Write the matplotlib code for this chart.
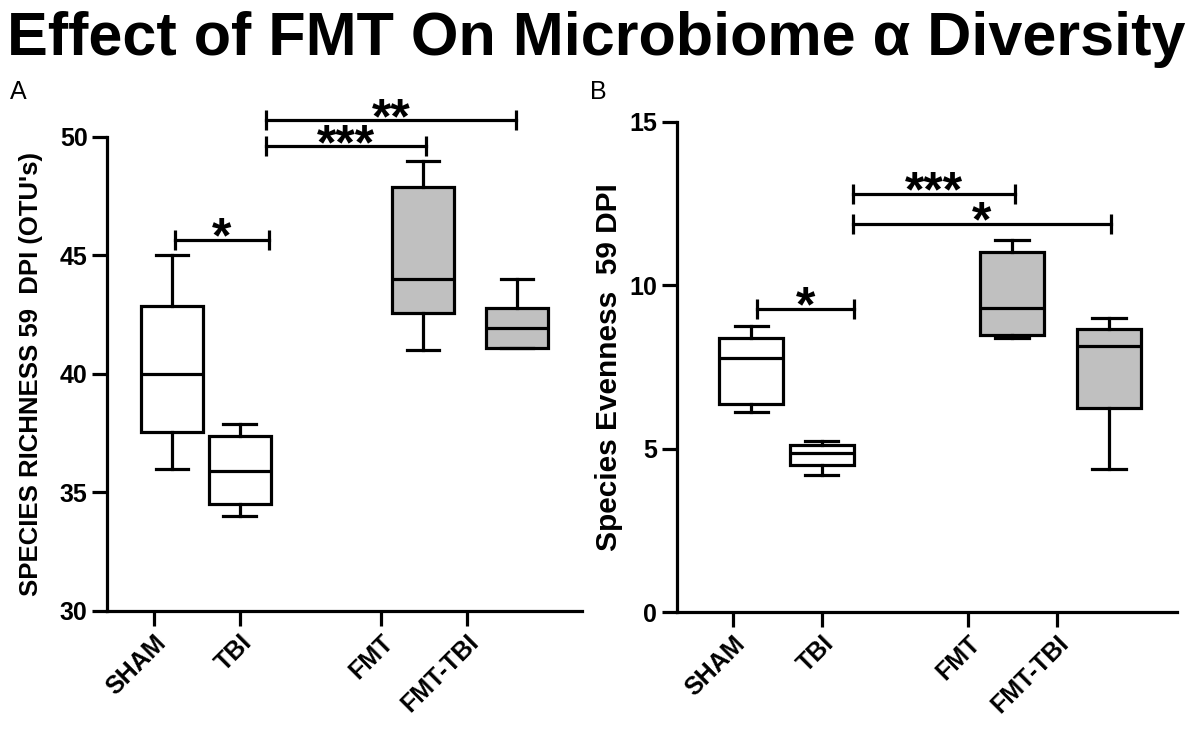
import matplotlib
matplotlib.use("Agg")
import matplotlib.pyplot as plt

plt.rcParams['font.family'] = ['Liberation Sans', 'DejaVu Sans']

groups = ["SHAM", "TBI", "FMT", "FMT-TBI"]
tick_pos = [1.0, 2.0, 3.65, 4.65]
box_pos = [1.21, 2.0, 4.14, 5.24]
fills = ["white", "white", "#c0c0c0", "#c0c0c0"]

# richness (panel A): whisker low, q1, median, q3, whisker high
rich_lo = [36.0, 34.0, 41.0, 41.1]
rich_q1 = [37.55, 34.5, 42.57, 41.1]
rich_med = [40.0, 35.9, 44.0, 41.95]
rich_q3 = [42.85, 37.4, 47.9, 42.8]
rich_hi = [45.0, 37.9, 49.0, 44.0]

# evenness (panel B)
even_lo = [6.12, 4.19, 8.39, 4.38]
even_q1 = [6.37, 4.5, 8.48, 6.24]
even_med = [7.77, 4.87, 9.3, 8.14]
even_q3 = [8.39, 5.1, 11.02, 8.66]
even_hi = [8.75, 5.23, 11.39, 9.0]

# significance bars: label, x start, x end, y
sig_a = [("*", 1.24, 2.34, 45.65), ("***", 2.31, 4.17, 49.6), ("**", 2.31, 5.23, 50.7)]
sig_b = [("*", 1.27, 2.36, 9.27), ("***", 2.35, 4.18, 12.8), ("*", 2.35, 5.26, 11.88)]

LW = 2.3


def draw(ax, lo, q1, med, q3, hi, sig, ylim, yticks, xlim, ylabel, lab_x, lab_size):
    stats = []
    for i in range(len(groups)):
        stats.append(dict(whislo=lo[i], q1=q1[i], med=med[i], q3=q3[i], whishi=hi[i], label=groups[i]))
    bp = ax.bxp(stats, positions=box_pos, widths=0.72, showfliers=False, patch_artist=True,
                boxprops=dict(linewidth=LW, edgecolor="black"),
                medianprops=dict(linewidth=LW, color="black"),
                whiskerprops=dict(linewidth=LW, color="black"),
                capprops=dict(linewidth=LW, color="black"), capwidths=0.38)
    for patch, c in zip(bp["boxes"], fills):
        patch.set_facecolor(c)

    for s, x1, x2, y in sig:
        ax.plot([x1, x2], [y, y], color="black", lw=LW, marker="|", markersize=15,
                markeredgewidth=LW, clip_on=False)
        ax.annotate(s, ((x1 + x2) / 2, y), xytext=(0, -9), textcoords="offset points",
                    ha="center", va="baseline", fontsize=36, fontweight="bold",
                    annotation_clip=False)

    ax.set_xlim(xlim)
    ax.set_ylim(ylim)
    ax.set_yticks(yticks)
    ax.set_xticks(tick_pos)
    ax.set_xticklabels(groups, rotation=45, ha="right", rotation_mode="anchor")
    for lab in ax.get_xticklabels() + ax.get_yticklabels():
        lab.set_fontweight("bold")
        lab.set_fontsize(18)
    ax.tick_params(width=LW, length=11, pad=3)
    ax.spines["top"].set_visible(False)
    ax.spines["right"].set_visible(False)
    ax.spines["left"].set_linewidth(LW)
    ax.spines["bottom"].set_linewidth(LW)
    ax.set_ylabel(ylabel, fontweight="bold", fontsize=lab_size)
    ax.yaxis.set_label_coords(lab_x, 0.5)


fig = plt.figure(figsize=(12, 7.34), dpi=100)
fig.text(0.497, 0.985, "Effect of FMT On Microbiome α Diversity", ha="center", va="top",
         fontsize=44, fontweight="bold")

ax1 = fig.add_axes([0.0892, 0.1676, 0.396, 0.6458])
draw(ax1, rich_lo, rich_q1, rich_med, rich_q3, rich_hi, sig_a, (30, 50), [30, 35, 40, 45, 50],
     (0.45, 6.0), "SPECIES RICHNESS 59  DPI (OTU's)", -0.135, 18.5)

ax2 = fig.add_axes([0.564, 0.1662, 0.4167, 0.6676])
draw(ax2, even_lo, even_q1, even_med, even_q3, even_hi, sig_b, (0, 15), [0, 5, 10, 15],
     (0.37, 6.0), "Species Evenness  59 DPI", -0.108, 21.5)

fig.text(0.008, 0.865, "A", fontsize=18)
fig.text(0.492, 0.865, "B", fontsize=18)

fig.savefig("out.png", dpi=100)
